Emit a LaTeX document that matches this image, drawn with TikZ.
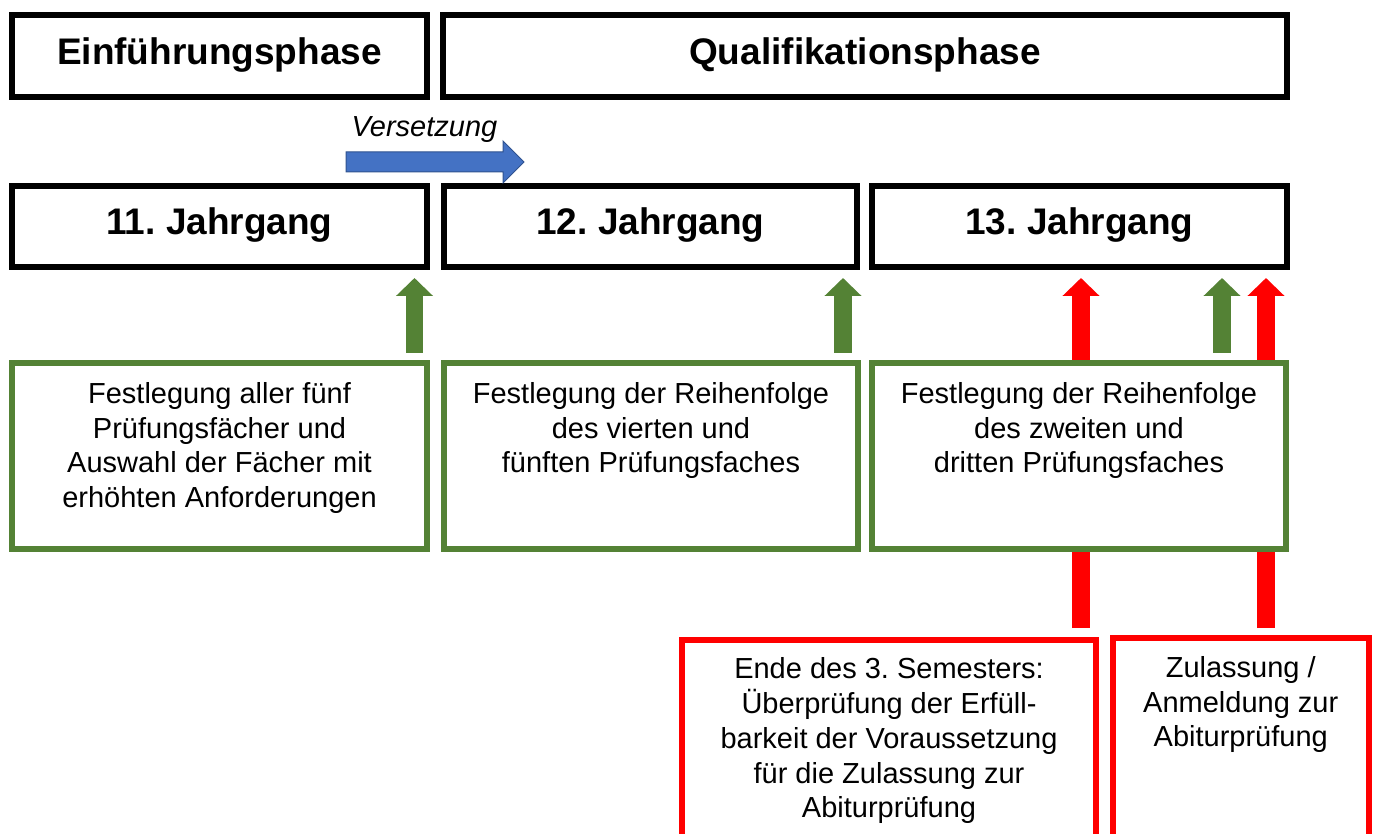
\documentclass[tikz,border=0pt]{standalone}
\usepackage{fontspec}
\setmainfont{Liberation Sans}
\usetikzlibrary{arrows.meta,backgrounds}
\definecolor{pgreen}{HTML}{548235}
\definecolor{pblue}{HTML}{4472C4}
\definecolor{pblueline}{HTML}{2F528F}
\definecolor{pred}{HTML}{FF0000}
\frenchspacing
\begin{document}
\begin{tikzpicture}[x=1pt,y=-1pt,
  box/.style={draw, line width=6pt, fill=white, inner sep=0pt, outer sep=0pt, anchor=north west},
  titlebox/.style={box, draw=black, font=\fontsize{37}{44}\selectfont\bfseries, text height=27pt, text depth=11pt},
  gbox/.style={box, draw=pgreen, minimum height=186.5pt},
  rbox/.style={box, draw=pred, minimum height=260pt},
  btext/.style={font=\fontsize{29}{34.8}\selectfont, align=center, inner sep=0pt, anchor=north},
  blockarrow/.style={line width=17.5pt, -{Triangle[width=36pt,length=18pt]}},
  garrow/.style={blockarrow, draw=pgreen},
  rarrow/.style={blockarrow, draw=pred}
]
\path[use as bounding box, clip] (0,0) rectangle (1376,834);

% phase boxes
\node[titlebox, minimum width=415pt, minimum height=81.5pt] (ein) at (12,15.5) {Einführungsphase};
\node[titlebox, minimum width=844pt, minimum height=81.5pt] (qual) at (443,15.5) {Qualifikationsphase};

% year boxes
\node[titlebox, minimum width=415pt, minimum height=81pt] (j11) at (12,186) {11. Jahrgang};
\node[titlebox, minimum width=413pt, minimum height=81pt] (j12) at (444,186) {12. Jahrgang};
\node[titlebox, minimum width=415pt, minimum height=81pt] (j13) at (872,186) {13. Jahrgang};

% green boxes
\node[gbox, minimum width=415pt] (g11) at (12,362.5) {};
\node[gbox, minimum width=414pt] (g12) at (444,362.5) {};
\node[gbox, minimum width=414pt] (g13) at (872,362.5) {};
\node[btext] (t11) at ([yshift=-19.5pt]g11.north) {Festlegung aller fünf\\Prüfungsfächer und\\Auswahl der Fächer mit\\erhöhten Anforderungen};
\node[btext] (t12) at ([yshift=-19.5pt]g12.north) {Festlegung der Reihenfolge\\des vierten und\\fünften Prüfungsfaches};
\node[btext] (t13) at ([yshift=-19.5pt]g13.north) {Festlegung der Reihenfolge\\des zweiten und\\dritten Prüfungsfaches};

% red boxes
\node[rbox, minimum width=414pt] (r1) at (682,639.5) {};
\node[rbox, minimum width=255.5pt] (r2) at (1113,638) {};
\node[btext] (tr1) at ([yshift=-18pt]r1.north) {Ende des 3. Semesters:\\Überprüfung der Erfüll-\\barkeit der Voraussetzung\\für die Zulassung zur\\Abiturprüfung};
\node[btext] (tr2) at ([yshift=-18pt]r2.north) {Zulassung /\\Anmeldung zur\\Abiturprüfung};

% Versetzung
\fill[pblue, draw=pblueline, line width=1pt] (346,152) -- (503,152) -- (503,141) -- (524,162) -- (503,183) -- (503,172) -- (346,172) -- cycle;
\node[font=\fontsize{29}{35}\selectfont\itshape, anchor=base, inner sep=0pt] (vers) at (424.5,137) {Versetzung};

% arrow positions
\coordinate (ga1) at (414.5,0);
\coordinate (ga2) at (843,0);
\coordinate (ga3) at (1222,0);
\coordinate (ra1) at (1081,0);
\coordinate (ra2) at (1266,0);

\begin{scope}[on background layer]
\draw[garrow, shorten <=10pt, shorten >=11pt] (g11.north -| ga1) -- (j11.south -| ga1);
\draw[garrow, shorten <=10pt, shorten >=11pt] (g12.north -| ga2) -- (j12.south -| ga2);
\draw[garrow, shorten <=10pt, shorten >=11pt] (g13.north -| ga3) -- (j13.south -| ga3);
\draw[rarrow, shorten <=11.5pt, shorten >=11pt] (r1.north -| ra1) -- (j13.south -| ra1);
\draw[rarrow, shorten <=10pt, shorten >=11pt] (r2.north -| ra2) -- (j13.south -| ra2);
\end{scope}
\end{tikzpicture}
\end{document}
